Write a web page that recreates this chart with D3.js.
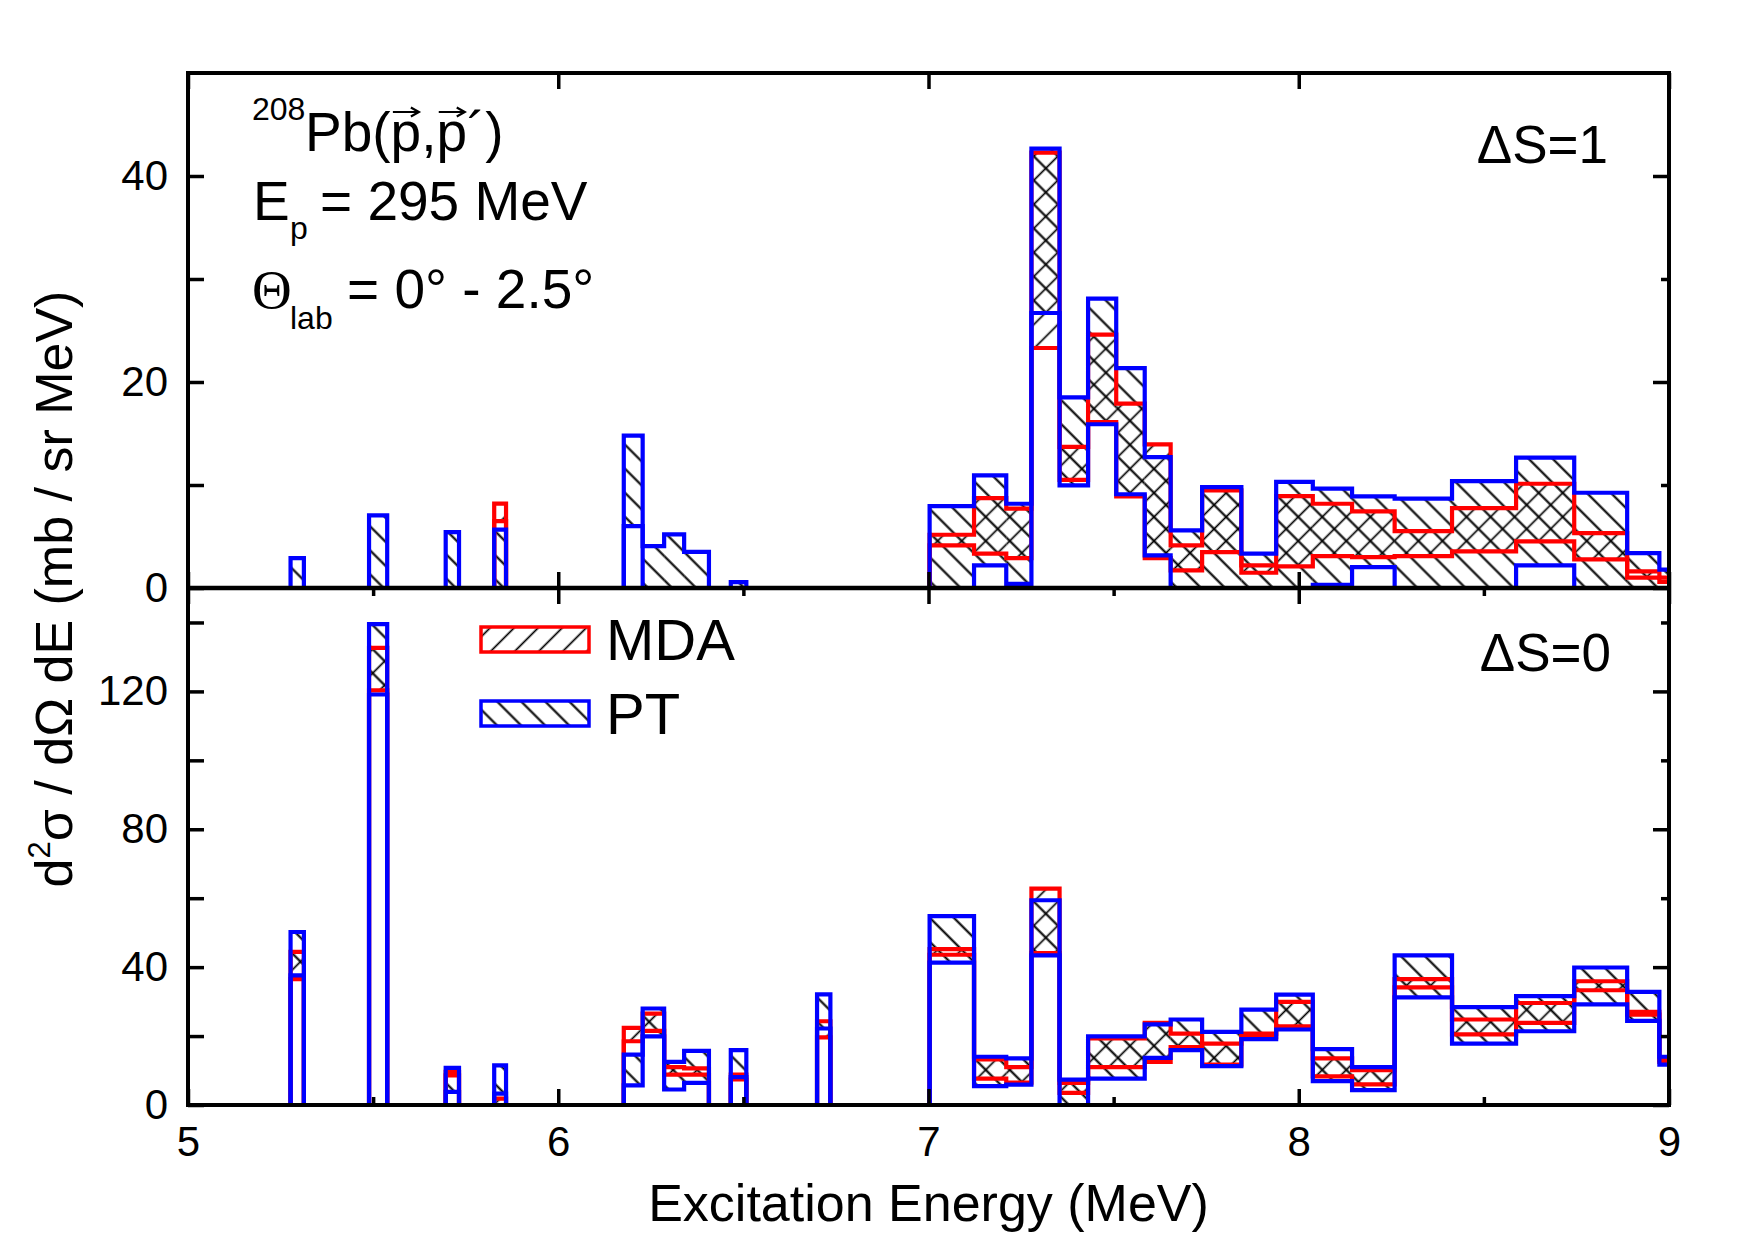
<!DOCTYPE html>
<html>
<head>
<meta charset="utf-8">
<script src="https://cdn.jsdelivr.net/npm/d3@7"></script>
<style>
  html, body { margin: 0; padding: 0; background: #fff; }
  svg { display: block; font-family: 'Liberation Sans', Arial, sans-serif; }
</style>
</head>
<body>
<svg id="chart" width="1755" height="1240"></svg>
<script>
// bin edges (MeV)
const binLo = [5.277, 5.489, 5.696, 5.827, 6.177, 6.228, 6.286, 6.340, 6.466, 6.699,
  7.003, 7.123, 7.210, 7.278, 7.354, 7.431, 7.507, 7.584, 7.654, 7.739,
  7.845, 7.939, 8.038, 8.144, 8.259, 8.414, 8.587, 8.744, 8.887, 8.974];
const binHi = [5.313, 5.538, 5.732, 5.859, 6.228, 6.286, 6.340, 6.407, 6.508, 6.735,
  7.123, 7.210, 7.278, 7.354, 7.431, 7.507, 7.584, 7.654, 7.739, 7.845,
  7.939, 8.038, 8.144, 8.259, 8.414, 8.587, 8.744, 8.887, 8.974, 9.06];

// dS=1 panel (mb / sr MeV)
const mdaLoS1 = [0, 0, 0, 6.5, 0, 0, 0, 0, 0, 0,
  4.14, 3.33, 2.9, 23.3, 10.5, 16.1, 8.9, 2.9, 1.71, 3.49,
  1.48, 2.1, 3.1, 3.0, 3.1, 3.55, 4.52, 2.78, 1.0, 0.6];
const mdaHiS1 = [0, 0, 0, 8.2, 0, 0, 0, 0, 0, 0,
  5.17, 8.73, 7.7, 42.26, 13.7, 24.6, 17.9, 13.94, 4.14, 9.48,
  2.19, 8.92, 8.18, 7.44, 5.53, 7.76, 10.12, 5.33, 1.61, 1.0];
const ptLoS1 = [0, 0, 0, 0, 6.0, 0, 0, 0, 0, 0,
  0, 2.19, 0.4, 26.7, 9.96, 15.9, 9.1, 3.17, 0, 0,
  0, 0, 0.3, 2.03, 0, 0, 2.19, 0, 0, 0];
const ptHiS1 = [2.9, 7.05, 5.43, 5.66, 14.8, 4.07, 5.2, 3.5, 0.58, 0,
  7.95, 10.93, 8.18, 42.65, 18.5, 28.1, 21.35, 12.7, 5.59, 9.8,
  3.33, 10.3, 9.64, 8.9, 8.67, 10.38, 12.65, 9.25, 3.39, 1.78];

// dS=0 panel (mb / sr MeV)
const mdaLoS0 = [36.5, 120.3, 8.6, 0, 18.5, 21.5, 8.8, 8.8, 7.4, 19.6,
  43.6, 7.65, 6.5, 44.1, 3.5, 11.0, 11.0, 12.5, 16.8, 11.7,
  19.7, 22.8, 8.3, 6.0, 34.1, 20.5, 23.8, 33.3, 26.2, 12.5];
const mdaHiS0 = [44.4, 132.6, 9.6, 1.85, 22.4, 26.5, 11.0, 10.6, 8.8, 24.3,
  45.2, 13.2, 11.0, 62.8, 6.4, 19.3, 19.3, 23.8, 20.7, 17.8,
  20.7, 29.9, 13.5, 10.1, 36.5, 24.8, 29.6, 35.9, 27.0, 13.0];
const ptLoS0 = [37.6, 119.1, 3.8, 3.3, 5.7, 19.9, 4.5, 6.4, 8.1, 22.2,
  41.3, 5.5, 5.9, 43.4, 0, 7.65, 7.65, 13.7, 15.9, 11.3,
  19.1, 21.9, 6.9, 4.3, 31.2, 17.8, 21.4, 29.2, 24.4, 11.7];
const ptHiS0 = [50.2, 139.5, 10.8, 11.5, 14.6, 28.0, 12.5, 15.7, 15.9, 32.1,
  54.8, 14.0, 13.5, 59.4, 7.35, 19.9, 19.9, 23.4, 24.8, 21.2,
  27.7, 32.0, 16.2, 11.0, 43.4, 28.4, 31.6, 39.9, 32.8, 14.0];

const xTicks = [5, 6, 7, 8, 9];
const xMinor = [5.5, 6.5, 7.5, 8.5];
const yTicksS1 = [0, 20, 40];
const yMinorS1 = [10, 30];
const yTicksS0 = [0, 40, 80, 120];
const yMinorS0 = [20, 60, 100, 140];

const pLeft = 188, pRight = 1669, pTop = 73, pMid = 588, pBottom = 1105;
const FONT = "'Liberation Sans', Arial, sans-serif";

const svg = d3.select('#chart');
const x = d3.scaleLinear().domain([5, 9]).range([pLeft, pRight]);
const yS1 = d3.scaleLinear().domain([0, 50]).range([pMid, pTop]);
const yS0 = d3.scaleLinear().domain([0, 150]).range([pBottom, pMid]);

const defs = svg.append('defs');
function hatch(id, angle, sw) {
    const p = defs.append('pattern')
        .attr('id', id)
        .attr('patternUnits', 'userSpaceOnUse')
        .attr('width', 17).attr('height', 17)
        .attr('patternTransform', `rotate(${angle})`);
    p.append('line')
        .attr('x1', 8.5).attr('y1', -1).attr('x2', 8.5).attr('y2', 18)
        .attr('stroke', '#000').attr('stroke-width', sw);
}
hatch('hatchMDA', 45, 1.7);
hatch('hatchPT', -45, 2.1);

defs.append('clipPath').attr('id', 'clipS1')
    .append('rect').attr('x', pLeft).attr('y', pTop).attr('width', pRight - pLeft).attr('height', pMid - pTop);
defs.append('clipPath').attr('id', 'clipS0')
    .append('rect').attr('x', pLeft).attr('y', pMid).attr('width', pRight - pLeft).attr('height', pBottom - pMid);

const bins = binLo.map((b, i) => ({x0: b, x1: binHi[i], i}));

function stepPoints(vals) {
    const pts = [];
    bins.forEach(d => {
        if (d.i === 0 || d.x0 - binHi[d.i - 1] > 1e-6) {
            if (d.i > 0) pts.push([binHi[d.i - 1], 0]);
            pts.push([d.x0, 0]);
        }
        pts.push([d.x0, vals[d.i]], [d.x1, vals[d.i]]);
    });
    pts.push([binHi[binHi.length - 1], 0]);
    return pts;
}

function drawPanel(y, mdaLo, mdaHi, ptLo, ptHi, clipId) {
    const g = svg.append('g').attr('clip-path', `url(#${clipId})`);

    g.selectAll('rect.mda').data(bins).join('rect')
        .attr('class', 'mda')
        .attr('x', d => x(d.x0))
        .attr('width', d => x(d.x1) - x(d.x0))
        .attr('y', d => y(mdaHi[d.i]))
        .attr('height', d => y(mdaLo[d.i]) - y(mdaHi[d.i]))
        .attr('fill', 'url(#hatchMDA)');

    g.selectAll('rect.pt').data(bins).join('rect')
        .attr('class', 'pt')
        .attr('x', d => x(d.x0))
        .attr('width', d => x(d.x1) - x(d.x0))
        .attr('y', d => y(ptHi[d.i]))
        .attr('height', d => y(ptLo[d.i]) - y(ptHi[d.i]))
        .attr('fill', 'url(#hatchPT)');

    const line = d3.line().x(d => x(d[0])).y(d => y(d[1]));
    [[mdaLo, '#ff0000'], [mdaHi, '#ff0000'], [ptLo, '#0000ff'], [ptHi, '#0000ff']].forEach(([vals, col]) => {
        g.append('path')
            .attr('d', line(stepPoints(vals)))
            .attr('fill', 'none')
            .attr('stroke', col)
            .attr('stroke-width', 4.2)
            .attr('stroke-linejoin', 'miter');
    });
}

drawPanel(yS1, mdaLoS1, mdaHiS1, ptLoS1, ptHiS1, 'clipS1');
drawPanel(yS0, mdaLoS0, mdaHiS0, ptLoS0, ptHiS0, 'clipS0');

// axes
function addAxis(axis, tx, ty) {
    const g = svg.append('g')
        .attr('transform', `translate(${tx},${ty})`)
        .call(axis)
        .attr('font-size', 42)
        .attr('font-family', FONT);
    g.select('.domain').remove();
    g.selectAll('.tick line').attr('stroke', '#000').attr('stroke-width', 3.5);
    g.selectAll('.tick text').attr('fill', '#000');
    return g;
}

// dS=1 panel
addAxis(d3.axisLeft(yS1).tickValues(yTicksS1.concat(yMinorS1)).tickSize(-16).tickPadding(20)
    .tickFormat(d => yTicksS1.includes(d) ? d : ''), pLeft, 0);
addAxis(d3.axisRight(yS1).tickValues(yTicksS1).tickSize(-16).tickFormat(''), pRight, 0);
addAxis(d3.axisRight(yS1).tickValues(yMinorS1).tickSize(-8).tickFormat(''), pRight, 0);
addAxis(d3.axisTop(x).tickValues(xTicks).tickSize(-16).tickFormat(''), 0, pTop);
addAxis(d3.axisBottom(x).tickValues(xTicks).tickSize(-16).tickFormat(''), 0, pMid);

// dS=0 panel
addAxis(d3.axisLeft(yS0).tickValues(yTicksS0.concat(yMinorS0)).tickSize(-16).tickPadding(20)
    .tickFormat(d => yTicksS0.includes(d) ? d : ''), pLeft, 0);
addAxis(d3.axisRight(yS0).tickValues(yTicksS0).tickSize(-16).tickFormat(''), pRight, 0);
addAxis(d3.axisRight(yS0).tickValues(yMinorS0).tickSize(-8).tickFormat(''), pRight, 0);
addAxis(d3.axisTop(x).tickValues(xTicks).tickSize(-16).tickFormat(''), 0, pMid);
addAxis(d3.axisTop(x).tickValues(xMinor).tickSize(-8).tickFormat(''), 0, pMid);
addAxis(d3.axisBottom(x).tickValues(xTicks).tickSize(-16).tickPadding(21).tickFormat(d3.format('d')), 0, pBottom);
addAxis(d3.axisBottom(x).tickValues(xMinor).tickSize(-8).tickFormat(''), 0, pBottom);

// frame
svg.append('rect')
    .attr('x', pLeft).attr('y', pTop).attr('width', pRight - pLeft).attr('height', pBottom - pTop)
    .attr('fill', 'none').attr('stroke', '#000').attr('stroke-width', 4);
svg.append('line')
    .attr('x1', pLeft).attr('x2', pRight).attr('y1', pMid).attr('y2', pMid)
    .attr('stroke', '#000').attr('stroke-width', 4.5);

// axis titles
svg.append('text')
    .attr('x', (pLeft + pRight) / 2).attr('y', 1221)
    .attr('text-anchor', 'middle').attr('font-size', 52)
    .text('Excitation Energy (MeV)');

const yTitle = svg.append('text')
    .attr('transform', 'translate(72,589) rotate(-90)')
    .attr('text-anchor', 'middle').attr('font-size', 52);
yTitle.append('tspan').text('d');
yTitle.append('tspan').attr('font-size', 31).attr('dy', -22).text('2');
yTitle.append('tspan').attr('dy', 22).text('\u03c3 / d\u03a9 dE (mb / sr MeV)');

// annotations
svg.append('text').attr('x', 252).attr('y', 120).attr('font-size', 32).text('208');
const reac = svg.append('text').attr('x', 305).attr('y', 151).attr('font-size', 55).text('Pb(p,p\u00b4)');
[3, 5].forEach(i => {
    const e = reac.node().getExtentOfChar(i);
    const cx = e.x + e.width / 2, ay = 112, hw = 13;
    svg.append('path')
        .attr('d', `M${cx - hw},${ay}H${cx + hw}M${cx + hw - 8},${ay - 4.5}L${cx + hw},${ay}L${cx + hw - 8},${ay + 4.5}`)
        .attr('fill', 'none').attr('stroke', '#000').attr('stroke-width', 2.2);
});

svg.append('text').attr('x', 253).attr('y', 220).attr('font-size', 55).text('E');
svg.append('text').attr('x', 290).attr('y', 239).attr('font-size', 32).text('p');
svg.append('text').attr('x', 320).attr('y', 220).attr('font-size', 55).text('= 295 MeV');

svg.append('text').attr('x', 252).attr('y', 308).attr('font-size', 55)
    .attr('font-family', "'Liberation Serif', 'Times New Roman', serif").text('\u0398');
svg.append('text').attr('x', 290).attr('y', 329).attr('font-size', 32).text('lab');
svg.append('text').attr('x', 347).attr('y', 308).attr('font-size', 55).text('= 0\u00b0 - 2.5\u00b0');

svg.append('text').attr('x', 1608).attr('y', 163).attr('text-anchor', 'end').attr('font-size', 53).text('\u0394S=1');
svg.append('text').attr('x', 1611).attr('y', 671).attr('text-anchor', 'end').attr('font-size', 53).text('\u0394S=0');

// legend
const legendItems = [
    {name: 'MDA', color: '#ff0000', fill: 'url(#hatchMDA)', y: 627},
    {name: 'PT', color: '#0000ff', fill: 'url(#hatchPT)', y: 701},
];
const lg = svg.selectAll('g.legend').data(legendItems).join('g').attr('class', 'legend');
lg.append('rect')
    .attr('x', 481).attr('y', d => d.y).attr('width', 108).attr('height', 25)
    .attr('fill', d => d.fill).attr('stroke', d => d.color).attr('stroke-width', 3.5);
lg.append('text')
    .attr('x', 606).attr('y', d => d.y + 33).attr('font-size', 58)
    .text(d => d.name);
</script>
</body>
</html>
